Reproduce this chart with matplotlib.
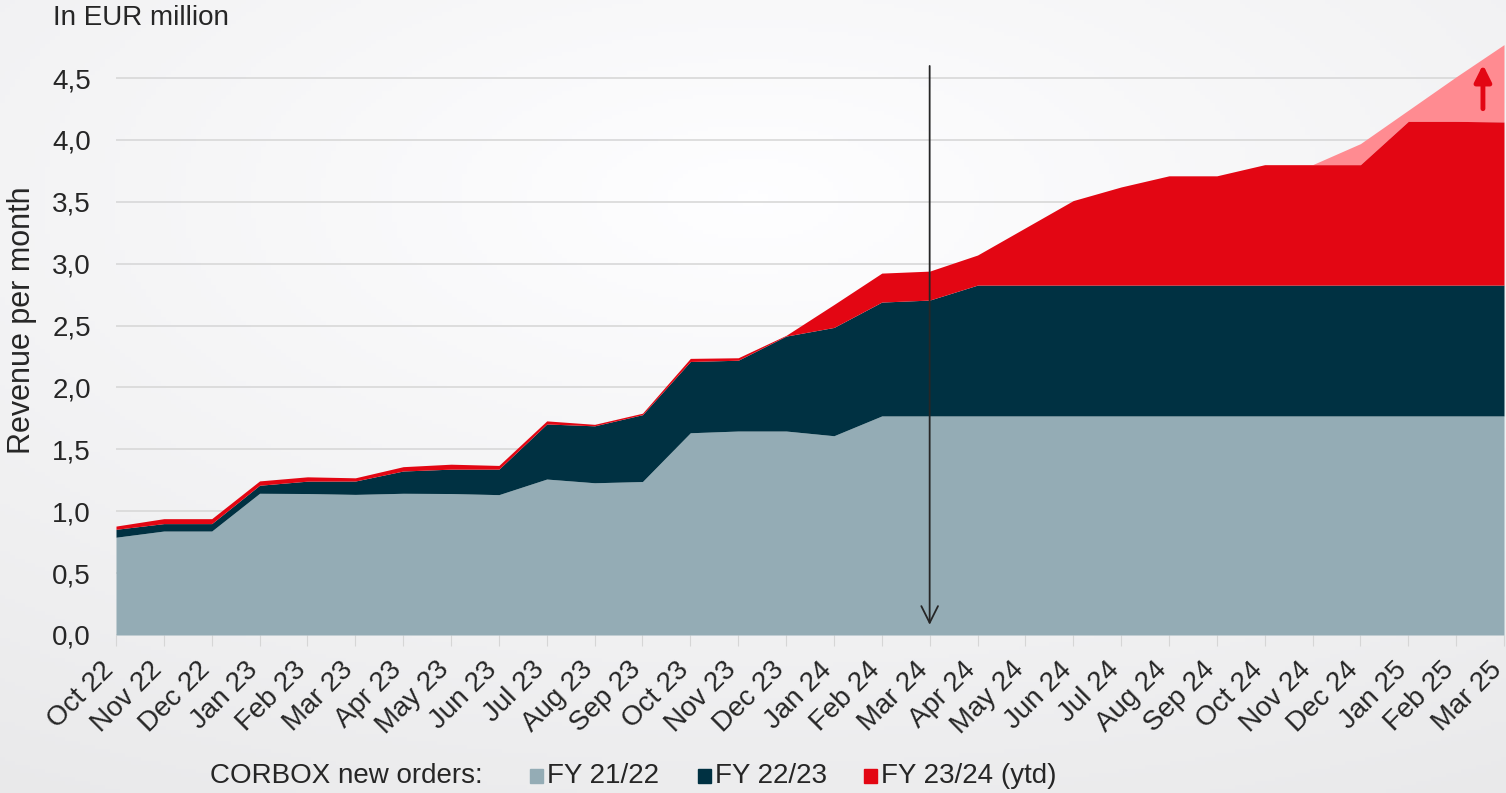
import numpy as np
import matplotlib
matplotlib.use("Agg")
import matplotlib.pyplot as plt
from matplotlib.patches import Rectangle
from matplotlib.transforms import ScaledTranslation

months = ["Oct 22", "Nov 22", "Dec 22", "Jan 23", "Feb 23", "Mar 23", "Apr 23", "May 23",
          "Jun 23", "Jul 23", "Aug 23", "Sep 23", "Oct 23", "Nov 23", "Dec 23", "Jan 24",
          "Feb 24", "Mar 24", "Apr 24", "May 24", "Jun 24", "Jul 24", "Aug 24", "Sep 24",
          "Oct 24", "Nov 24", "Dec 24", "Jan 25", "Feb 25", "Mar 25"]

fy2122 = [0.79, 0.84, 0.84, 1.145, 1.143, 1.136, 1.145, 1.143, 1.134, 1.26, 1.23, 1.24,
          1.634, 1.648, 1.648, 1.61, 1.77, 1.77, 1.77, 1.77, 1.77, 1.77, 1.77, 1.77,
          1.77, 1.77, 1.77, 1.77, 1.77, 1.77]
fy2223 = [0.064, 0.06, 0.06, 0.065, 0.10, 0.108, 0.18, 0.197, 0.206, 0.445, 0.46, 0.54,
          0.576, 0.572, 0.767, 0.875, 0.92, 0.936, 1.057, 1.057, 1.057, 1.057, 1.057, 1.057,
          1.057, 1.057, 1.057, 1.057, 1.057, 1.057]
fy2324 = [0.026, 0.04, 0.04, 0.035, 0.035, 0.026, 0.035, 0.04, 0.03, 0.025, 0.012, 0.012,
          0.025, 0.02, 0.006, 0.185, 0.234, 0.234, 0.243, 0.463, 0.683, 0.793, 0.883, 0.883,
          0.973, 0.973, 0.973, 1.323, 1.323, 1.318]
# projected total (light red wedge), only for the last months
forecast_total = [np.nan] * 25 + [3.80, 3.97, 4.24, 4.51, 4.77]

yticks = [0.0, 0.5, 1.0, 1.5, 2.0, 2.5, 3.0, 3.5, 4.0, 4.5]
ytick_labels = ["0,0", "0,5", "1,0", "1,5", "2,0", "2,5", "3,0", "3,5", "4,0", "4,5"]

C_GRAY = "#94acb5"
C_DARK = "#003142"
C_RED = "#e30613"
C_PINK = "#ff8b91"
C_TEXT = "#262626"

plt.rcParams['font.family'] = ['Liberation Sans', 'DejaVu Sans']

W, H = 1506, 793
fig = plt.figure(figsize=(W / 100, H / 100), dpi=100)

# background gradient
bg = fig.add_axes([0, 0, 1, 1], zorder=-10)
yy, xx = np.mgrid[0:1:200j, 0:1:300j]
d = np.sqrt(((xx - 0.5) / 1.0) ** 2 + ((yy - 0.25) / 0.9) ** 2)
val = 0.997 - 0.085 * d
img = np.clip(np.dstack([val, val, val * 1.005]), 0, 1)
bg.imshow(img, aspect='auto', extent=[0, 1, 1, 0])
bg.axis('off')

ax = fig.add_axes([116 / W, 1 - 635 / H, (1504 - 116) / W, (635 - 44) / H])
ax.patch.set_alpha(0)

x = np.arange(len(months))
a = np.array(fy2122)
b = a + np.array(fy2223)
c = b + np.array(fy2324)
f = np.array(forecast_total)

mask = ~np.isnan(f)
ax.fill_between(x[mask], c[mask], f[mask], color=C_PINK, lw=0, zorder=2)
ax.fill_between(x, 0, a, color=C_GRAY, lw=0, zorder=3)
ax.fill_between(x, a, b, color=C_DARK, lw=0, zorder=3)
ax.fill_between(x, b, c, color=C_RED, lw=0, zorder=3)

ax.set_xlim(0, len(months) - 1)
ax.set_ylim(0, 4.775)
ax.set_yticks(yticks)
ax.set_yticklabels(ytick_labels, fontsize=20, color=C_TEXT)
ax.set_xticks(x)
ax.tick_params(axis='y', length=0, pad=18)
ax.tick_params(axis='x', length=8, color="#d6d6d6", pad=4)
ax.set_xticklabels(months, rotation=45, ha='right', rotation_mode='anchor',
                   fontsize=20, color=C_TEXT)
offset = ScaledTranslation(-15 / 100, -5 / 100, fig.dpi_scale_trans)
for lab in ax.get_xticklabels():
    lab.set_transform(lab.get_transform() + offset)
ax.grid(axis='y', color="#d8d8d8", lw=1.2, zorder=0)
ax.set_axisbelow(True)
for s in ax.spines.values():
    s.set_visible(False)

fig.text(22 / W, 1 - 320 / H, "Revenue per month", fontsize=22, color=C_TEXT,
         rotation=90, ha='center', va='center')

# current month marker arrow
ax.annotate("", xy=(17, 0.06), xytext=(17, 4.62),
            arrowprops=dict(arrowstyle="->", color=C_TEXT, lw=1.3,
                            mutation_scale=30), zorder=6)
# growth arrow
ax.annotate("", xy=(28.56, 4.63), xytext=(28.56, 4.23),
            arrowprops=dict(arrowstyle="-|>,head_width=0.25,head_length=0.5",
                            color=C_RED, lw=3.5, mutation_scale=20), zorder=6)

fig.text(53 / W, 1 - 18 / H, "In EUR million", fontsize=20, color=C_TEXT,
         va='center', ha='left')

# legend
ly = 1 - 776 / H
fig.text(210 / W, ly, "CORBOX new orders:", fontsize=20, color=C_TEXT, va='center')
for x0, col, lab in [(530, C_GRAY, "FY 21/22"), (698, C_DARK, "FY 22/23"),
                     (864, C_RED, "FY 23/24 (ytd)")]:
    fig.patches.append(Rectangle((x0 / W, (1 - 783 / H)), 13 / W, 14 / H,
                                 transform=fig.transFigure, color=col))
    fig.text((x0 + 17) / W, ly, lab, fontsize=20, color=C_TEXT, va='center')

fig.savefig("out.png", dpi=100)
